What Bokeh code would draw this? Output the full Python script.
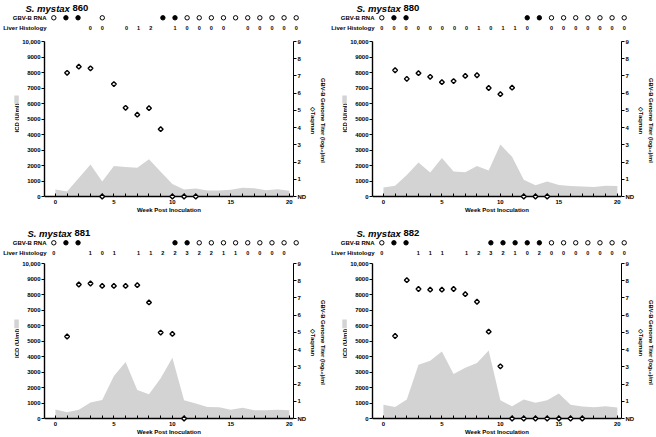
import math
from bokeh.plotting import figure
from bokeh.models import Range1d, LinearAxis, FixedTicker
from bokeh.layouts import column, row
from bokeh.embed import file_html
from bokeh.resources import INLINE
from bokeh.core.properties import value

# ---------------- data ----------------
weeks = list(range(21))

icd_860 = [450, 320, 1200, 2060, 970, 1960, 1910, 1850, 2410, 1600, 800, 450, 520, 390, 390, 430, 560, 540, 410, 470, 370]
icd_880 = [580, 690, 1380, 2190, 1550, 2490, 1610, 1570, 1960, 1680, 3350, 2560, 1080, 730, 970, 750, 670, 650, 620, 690, 670]
icd_881 = [580, 410, 560, 1030, 1200, 2740, 3640, 1840, 1560, 2590, 3920, 1180, 960, 750, 730, 560, 690, 540, 540, 560, 540]
icd_882 = [880, 750, 1220, 3470, 3730, 4330, 2870, 3280, 3580, 4390, 1180, 790, 1220, 1010, 1180, 1610, 880, 770, 730, 790, 710]

# log10 genome titer (Taqman); 0 = ND, None = not tested
taq_860 = [None, 7.18, 7.54, 7.44, 0, 6.53, 5.15, 4.75, 5.13, 3.91, 0, 0, 0, None, None, None, None, None, None, None, None]
taq_880 = [None, 7.33, 6.83, 7.16, 6.95, 6.64, 6.70, 7.00, 7.04, 6.30, 5.94, 6.32, 0, 0, 0, None, None, None, None, None, None]
taq_881 = [None, 4.76, 7.78, 7.84, 7.70, 7.70, 7.70, 7.74, 6.74, 4.99, 4.91, 0, None, None, None, None, None, None, None, None, None]
taq_882 = [None, 4.79, 8.03, 7.52, 7.48, 7.48, 7.52, 7.22, 6.78, 5.04, 3.03, 0, 0, 0, 0, 0, 0, 0, None, None, None]

# GBV-B RNA: 1 = positive (filled), 0 = negative (open), None = not done
rna_860 = [0, 1, 1, None, 0, None, None, None, None, 1, 1, 0, 0, 0, 0, 0, 0, 0, 0, 0, 0]
rna_880 = [0, 1, 1, None, None, None, None, None, None, None, None, None, 1, 1, 0, 0, 0, 0, 0, 0, 0]
rna_881 = [0, 1, 1, None, None, None, None, None, None, None, 1, 1, 0, 0, 0, 0, 0, 0, 0, 0, 0]
rna_882 = [0, 1, 1, None, None, None, None, None, None, 1, 1, 1, 1, 1, 0, 0, 0, 0, 0, 0, 0]

# Liver histology scores
liver_860 = [None, None, None, 0, 0, None, 0, 1, 2, None, 1, 0, 0, 0, 0, None, 0, 0, 0, 0, 0]
liver_880 = [0, 0, 0, 0, 0, 0, 0, 0, 1, 0, 1, 1, 0, None, 0, 0, 0, 0, 0, 0, 0]
liver_881 = [0, None, None, 1, 0, 1, None, 1, 1, 2, 2, 3, 2, 2, 1, 1, 0, 0, 0, 0, None]
liver_882 = [0, None, None, 1, 1, 1, None, 1, 2, 3, 2, 1, 0, 2, 0, 0, 0, 0, 0, 0, 0]

left_ticks = list(range(0, 10001, 1000))
right_ticks = list(range(0, 10))
week_major = [0, 5, 10, 15, 20]

# ---------------- layout constants ----------------
FONT = "Liberation Sans"
GRAY = "#d3d3d3"
PANEL_W = 328
STRIP_W = 19
CHART_W = PANEL_W - STRIP_W
LB, RB = 23, 28
FRAME_W = CHART_W - LB - RB
PX_W = 12.12          # px per week
X0 = 11.3             # px from left spine to week 0
PLOT_PX = 155         # px from 0 to 10000 / 9
BELOW = 3             # px of frame below the zero line
FRAME_H = PLOT_PX + BELOW


def style_fig(p):
    p.outline_line_color = None
    p.background_fill_color = "white"
    p.border_fill_color = "white"


def header(name, rna, liver, h, title_px):
    wx0 = STRIP_W + LB + X0
    hx = lambda px: (px - wx0) / PX_W
    p = figure(width=PANEL_W, height=h, toolbar_location=None, output_backend="svg",
               x_range=Range1d(hx(0), hx(PANEL_W)), y_range=Range1d(h, 0),
               x_axis_location=None, y_axis_location=None, min_border=0)
    style_fig(p)
    p.grid.visible = False
    ty = 7.8
    p.text(x=[hx(title_px)], y=[ty], text=["S. mystax"], text_font=value(FONT),
           text_font_size="9.5px", text_font_style="bold italic", text_color="black",
           text_baseline="middle")
    p.text(x=[hx(title_px + 47)], y=[ty], text=[name], text_font=value(FONT),
           text_font_size="9.5px", text_font_style="bold", text_color="black",
           text_baseline="middle")
    gy, ly = 17.3, 27.0
    p.text(x=[hx(46), hx(46)], y=[gy, ly], text=["GBV-B RNA", "Liver Histology"],
           text_font=value(FONT), text_font_size="6px", text_font_style="bold",
           text_color="black", text_align="right", text_baseline="middle")
    for flag, fill in ((1, "black"), (0, "white")):
        xs = [w for w, r in zip(weeks, rna) if r == flag]
        p.scatter(x=xs, y=[gy] * len(xs), marker="circle", size=4.4,
                  fill_color=fill, line_color="black", line_width=1)
    lx = [w for w, v in zip(weeks, liver) if v is not None]
    lt = [str(v) for v in liver if v is not None]
    p.text(x=lx, y=[ly] * len(lx), text=lt, text_font=value(FONT),
           text_font_size="5.5px", text_font_style="bold", text_color="black",
           text_align="center", text_baseline="middle")
    return p


def strip(h, bt):
    p = figure(width=STRIP_W, height=h, toolbar_location=None, output_backend="svg",
               x_range=Range1d(0, STRIP_W), y_range=Range1d(h, 0),
               x_axis_location=None, y_axis_location=None, min_border=0)
    style_fig(p)
    p.grid.visible = False
    p.quad(left=[13.8], right=[18.3], top=[bt + 59], bottom=[bt + 69],
           fill_color=GRAY, line_color=None)
    p.text(x=[16], y=[bt + 86], text=["ICD (U/ml)"], angle=math.pi / 2,
           text_font=value(FONT), text_font_size="6px", text_font_style="bold",
           text_color="black", text_align="center", text_baseline="middle")
    return p


def base_axis(ax, size="6px"):
    ax.major_label_text_font = FONT
    ax.major_label_text_font_size = size
    ax.major_label_text_font_style = "bold"
    ax.major_label_text_color = "black"
    ax.axis_label_text_font = FONT
    ax.axis_label_text_font_style = "bold"
    ax.axis_label_text_color = "black"
    ax.axis_label_text_font_size = "6px"
    ax.minor_tick_line_color = None


def chart(icd, taq, h, bt, bb):
    p = figure(width=CHART_W, height=h, toolbar_location=None, output_backend="svg",
               x_range=Range1d(-X0 / PX_W, (FRAME_W - X0) / PX_W),
               y_range=Range1d(-BELOW * 10000 / PLOT_PX, 10000),
               min_border_left=LB, min_border_right=RB,
               min_border_top=bt, min_border_bottom=bb)
    p.extra_y_ranges = {"r": Range1d(-BELOW * 9 / PLOT_PX, 9)}
    style_fig(p)
    p.xgrid.visible = False
    p.ygrid.visible = False

    p.varea(x=weeks, y1=[0] * len(weeks), y2=icd, fill_color=GRAY)

    tx = [w for w, v in zip(weeks, taq) if v is not None]
    ty = [v for v in taq if v is not None]
    p.scatter(x=tx, y=ty, marker="square", angle=math.pi / 4, size=3.4,
              fill_color="white", line_color="black", line_width=1.4,
              y_range_name="r", level="overlay")

    # left axis (ICD)
    ya = p.yaxis[0]
    base_axis(ya)
    ya.bounds = (0, 10000)
    ya.ticker = FixedTicker(ticks=left_ticks)
    ya.major_label_overrides = {10000: "10,000"}
    ya.major_tick_in, ya.major_tick_out = 0, 3
    ya.axis_line_width = 1.4
    ya.axis_line_color = "black"
    ya.major_tick_line_color = "black"
    ya.major_label_standoff = 1

    # bottom: labels only (at frame bottom)
    xb = p.xaxis[0]
    base_axis(xb)
    xb.ticker = FixedTicker(ticks=week_major)
    xb.axis_line_color = None
    xb.major_tick_line_color = None
    xb.major_tick_in, xb.major_tick_out = 0, 0
    xb.major_label_standoff = 0
    xb.axis_label = "Week Post Inoculation"
    xb.axis_label_standoff = 0

    # axis line + weekly ticks at the zero line
    xl = LinearAxis(fixed_location=0, ticker=FixedTicker(ticks=[], minor_ticks=weeks))
    base_axis(xl)
    xl.axis_line_width = 1.4
    xl.axis_line_color = "black"
    xl.major_tick_line_color = None
    xl.minor_tick_line_color = "black"
    xl.minor_tick_in, xl.minor_tick_out = 0, 3
    xl.major_tick_out = 0
    xl.major_label_standoff = 0
    p.add_layout(xl, "above")

    # right axis (Taqman)
    ra = LinearAxis(y_range_name="r", bounds=(0, 9), ticker=FixedTicker(ticks=right_ticks))
    base_axis(ra)
    ra.major_label_overrides = {0: "ND"}
    ra.major_tick_in, ra.major_tick_out = 0, 3
    ra.axis_line_width = 1
    ra.axis_line_color = "black"
    ra.major_tick_line_color = "black"
    ra.major_label_standoff = 1
    ra.axis_label = "\u25c7Taqman"
    ra.axis_label_standoff = 1
    p.add_layout(ra, "right")

    ga = LinearAxis(y_range_name="r", ticker=FixedTicker(ticks=[]))
    base_axis(ga)
    ga.axis_line_color = None
    ga.major_tick_line_color = None
    ga.major_tick_out = 0
    ga.major_label_standoff = 0
    ga.axis_label = "GBV-B Genome Titer (log\u2081\u2080)/ml"
    ga.axis_label_standoff = 0
    ga.axis_label_text_font_size = "5.8px"
    p.add_layout(ga, "right")
    return p


def panel(name, icd, taq, rna, liver, hdr_h, bt, bb, title_px):
    ch = bt + FRAME_H + bb
    return column(header(name, rna, liver, hdr_h, title_px),
                  row(strip(ch, bt), chart(icd, taq, ch, bt, bb)))


top = row(panel("860", icd_860, taq_860, rna_860, liver_860, 35, 6, 26, 25),
          panel("880", icd_880, taq_880, rna_880, liver_880, 35, 6, 26, 28))
bottom = row(panel("881", icd_881, taq_881, rna_881, liver_881, 34, 4, 16, 27),
             panel("882", icd_882, taq_882, rna_882, liver_882, 34, 4, 16, 28))
layout = column(top, bottom)

open("out.html", "w").write(file_html(layout, INLINE))
